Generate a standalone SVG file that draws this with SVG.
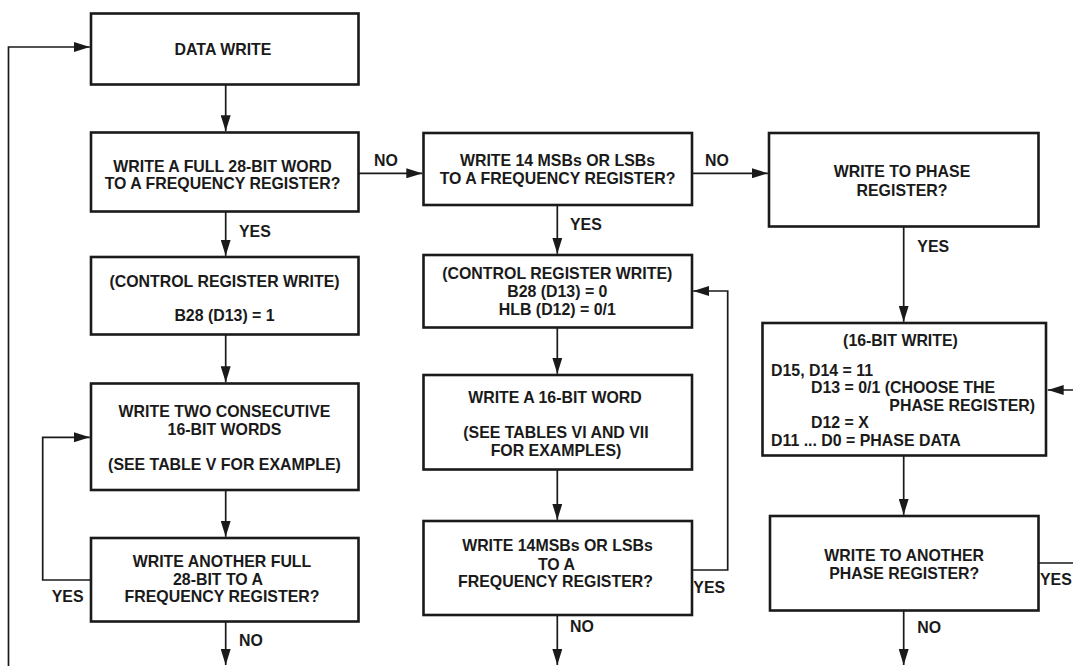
<svg xmlns="http://www.w3.org/2000/svg" width="1073" height="666" viewBox="0 0 1073 666">
<defs>
<style>
.box{fill:#fff;stroke:#1a1a1a;stroke-width:2.6}
.c{fill:none;stroke:#1a1a1a;stroke-width:1.7;marker-end:url(#ah)}
text{font-family:"Liberation Sans",Arial,Helvetica,sans-serif;font-weight:bold;font-size:15.9px;fill:#1a1a1a}
.m{text-anchor:middle}
</style>
<marker id="ah" markerUnits="userSpaceOnUse" markerWidth="16" markerHeight="10" refX="16" refY="5" orient="auto">
<path d="M0,0 L16,5 L0,10 z" fill="#1a1a1a"/>
</marker>
</defs>
<rect width="1073" height="666" fill="#fff"/>
<g id="connectors">
<path class="c" d="M8.5,670 V47 H89.8"/>
<path class="c" d="M225.7,84.5 V131.2"/>
<path class="c" d="M225.7,211.5 V255.8"/>
<path class="c" d="M225.7,334.5 V382.3"/>
<path class="c" d="M225.7,490 V536.8"/>
<path class="c" d="M225.7,621.5 V665"/>
<path class="c" d="M91,580 H42.7 V437.3 H89.8"/>
<path class="c" d="M358.5,173.3 H422.3"/>
<path class="c" d="M692,173.3 H767.8"/>
<path class="c" d="M557.3,205 V253.8"/>
<path class="c" d="M557.3,327.5 V373.8"/>
<path class="c" d="M557.3,469.5 V519.8"/>
<path class="c" d="M557.3,615 V665"/>
<path class="c" d="M692,570 H727.7 V291 H693.2"/>
<path class="c" d="M903.7,226.5 V321.8"/>
<path class="c" d="M903.7,455.5 V514.8"/>
<path class="c" d="M903.7,610.5 V665"/>
<path class="c" d="M1038.5,563 H1076 V390 H1047.7"/>
<text x="374" y="166.4">NO</text>
<text x="705" y="166.4">NO</text>
<text x="239" y="236.7">YES</text>
<text x="570" y="230">YES</text>
<text x="917.3" y="252.4">YES</text>
<text x="51.7" y="602.4">YES</text>
<text x="239" y="645.7">NO</text>
<text x="693.3" y="593.4">YES</text>
<text x="570" y="632.4">NO</text>
<text x="1040" y="584.7">YES</text>
<text x="917.3" y="633">NO</text>
</g>
<g id="n1">
<rect class="box" x="91" y="13.5" width="267.5" height="71"/>
<text class="m" x="223" y="54.7">DATA WRITE</text>
</g>
<g id="n2">
<rect class="box" x="91" y="132.5" width="267.5" height="79"/>
<text class="m" x="222.5" y="171.5">WRITE A FULL 28-BIT WORD</text>
<text class="m" x="222.5" y="189">TO A FREQUENCY REGISTER?</text>
</g>
<g id="n3">
<rect class="box" x="91" y="257" width="267.5" height="77.5"/>
<text class="m" x="224.5" y="286.7">(CONTROL REGISTER WRITE)</text>
<text class="m" x="224.5" y="320.7">B28 (D13) = 1</text>
</g>
<g id="n4">
<rect class="box" x="91" y="383.5" width="267.5" height="106.5"/>
<text class="m" x="224.5" y="416.7">WRITE TWO CONSECUTIVE</text>
<text class="m" x="224.5" y="434.7">16-BIT WORDS</text>
<text class="m" x="224.5" y="470">(SEE TABLE V FOR EXAMPLE)</text>
</g>
<g id="n5">
<rect class="box" x="91" y="538" width="267.5" height="83.5"/>
<text class="m" x="222" y="566.7">WRITE ANOTHER FULL</text>
<text class="m" x="218" y="584.7">28-BIT TO A</text>
<text class="m" x="222" y="602.4">FREQUENCY REGISTER?</text>
</g>
<g id="n6">
<rect class="box" x="423.5" y="133" width="268.5" height="72"/>
<text class="m" x="557.5" y="166.4">WRITE 14 MSBs OR LSBs</text>
<text class="m" x="557.5" y="184">TO A FREQUENCY REGISTER?</text>
</g>
<g id="n7">
<rect class="box" x="423.5" y="255" width="268.5" height="72.5"/>
<text class="m" x="557.3" y="279">(CONTROL REGISTER WRITE)</text>
<text class="m" x="557.3" y="297.4">B28 (D13) = 0</text>
<text class="m" x="557.3" y="314.7">HLB (D12) = 0/1</text>
</g>
<g id="n8">
<rect class="box" x="423.5" y="375" width="268.5" height="94.5"/>
<text class="m" x="555" y="403.4">WRITE A 16-BIT WORD</text>
<text class="m" x="556" y="438.4">(SEE TABLES VI AND VII</text>
<text class="m" x="556" y="456.4">FOR EXAMPLES)</text>
</g>
<g id="n9">
<rect class="box" x="423.5" y="521" width="268.5" height="94"/>
<text class="m" x="557.5" y="551.4">WRITE 14MSBs OR LSBs</text>
<text class="m" x="556.5" y="569.7">TO A</text>
<text class="m" x="555.5" y="587">FREQUENCY REGISTER?</text>
</g>
<g id="n10">
<rect class="box" x="769" y="133" width="269.5" height="93.5"/>
<text class="m" x="902" y="177.4">WRITE TO PHASE</text>
<text class="m" x="902" y="195.7">REGISTER?</text>
</g>
<g id="n11">
<rect class="box" x="762.5" y="323" width="283.5" height="132.5"/>
<text class="m" x="900.5" y="346.4">(16-BIT WRITE)</text>
<text x="771" y="375.7">D15, D14 = 11</text>
<text x="811" y="393">D13 = 0/1 (CHOOSE THE</text>
<text x="1035" y="411.4" text-anchor="end">PHASE REGISTER)</text>
<text x="811" y="428.4">D12 = X</text>
<text x="771" y="445.7">D11 ... D0 = PHASE DATA</text>
</g>
<g id="n12">
<rect class="box" x="770" y="516" width="268.5" height="94.5"/>
<text class="m" x="904.2" y="561.4">WRITE TO ANOTHER</text>
<text class="m" x="904.2" y="579">PHASE REGISTER?</text>
</g>
</svg>
